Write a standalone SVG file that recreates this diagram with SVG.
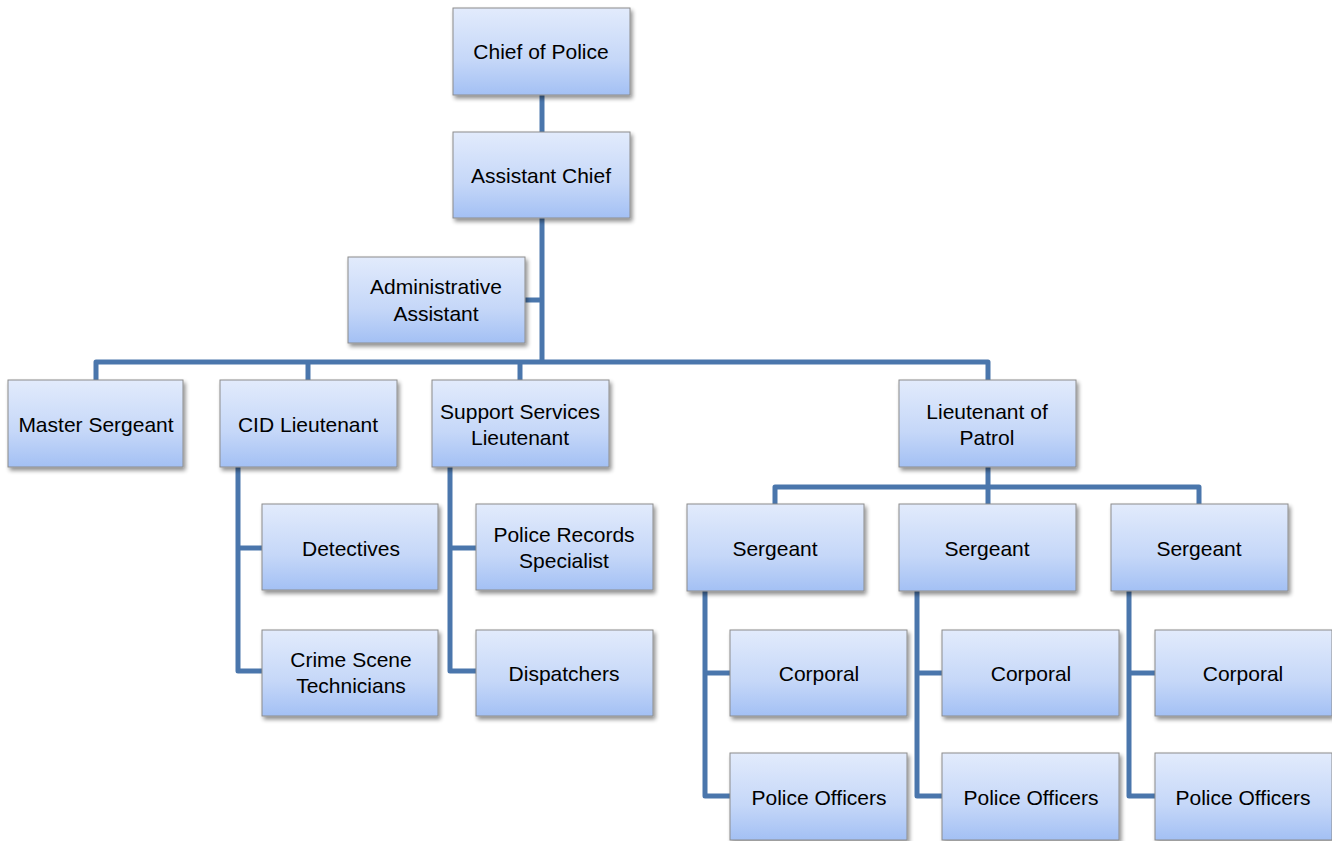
<svg xmlns="http://www.w3.org/2000/svg" width="1332" height="841" viewBox="0 0 1332 841">
<defs>
<linearGradient id="g" x1="0" y1="0" x2="0" y2="1">
<stop offset="0" stop-color="#e2ebfc"/>
<stop offset="0.6" stop-color="#c5d7f8"/>
<stop offset="1" stop-color="#a3c0f4"/>
</linearGradient>
<filter id="sh" x="-10%" y="-10%" width="125%" height="130%">
<feGaussianBlur in="SourceAlpha" stdDeviation="2"/>
<feOffset dx="2" dy="3"/>
<feComponentTransfer><feFuncA type="linear" slope="0.45"/></feComponentTransfer>
<feMerge><feMergeNode/><feMergeNode in="SourceGraphic"/></feMerge>
</filter>
</defs>
<style>
.box{fill:url(#g);stroke:#8c8c8c;stroke-width:1;filter:url(#sh)}
.t{font-family:"Liberation Sans",Arial,sans-serif;font-size:21px;fill:#000;text-anchor:middle}
.c{fill:none;stroke:#4a76ac;stroke-width:5;stroke-linejoin:round}
</style>
<rect width="1332" height="841" fill="#fff"/>
<g id="connectors">
<path class="c" d="M542,94V132"/>
<path class="c" d="M542,218V362"/>
<path class="c" d="M525,300H542"/>
<path class="c" d="M96,380V362H988V380"/>
<path class="c" d="M308,362V380"/>
<path class="c" d="M520,362V380"/>
<path class="c" d="M988,467V504"/>
<path class="c" d="M775,504V487H1199V504"/>
<path class="c" d="M238,467V671H262"/>
<path class="c" d="M238,548H262"/>
<path class="c" d="M450,467V671H476"/>
<path class="c" d="M450,548H476"/>
<path class="c" d="M705,591V796H730"/>
<path class="c" d="M705,673H730"/>
<path class="c" d="M917,591V796H942"/>
<path class="c" d="M917,673H942"/>
<path class="c" d="M1129,591V796H1155"/>
<path class="c" d="M1129,673H1155"/>
</g>
<g id="chief"><rect class="box" x="453" y="8" width="177" height="87"/><text class="t" x="541" y="59">Chief of Police</text></g>
<g id="asst-chief"><rect class="box" x="453" y="132" width="177" height="86"/><text class="t" x="541" y="183">Assistant Chief</text></g>
<g id="admin"><rect class="box" x="348" y="257" width="177" height="86"/><text class="t" x="436" y="294">Administrative</text><text class="t" x="436" y="321">Assistant</text></g>
<g id="master-sgt"><rect class="box" x="8" y="380" width="175" height="87"/><text class="t" x="96" y="432">Master Sergeant</text></g>
<g id="cid-lt"><rect class="box" x="220" y="380" width="177" height="87"/><text class="t" x="308" y="432">CID Lieutenant</text></g>
<g id="support-lt"><rect class="box" x="432" y="380" width="177" height="87"/><text class="t" x="520" y="419">Support Services</text><text class="t" x="520" y="445">Lieutenant</text></g>
<g id="patrol-lt"><rect class="box" x="899" y="380" width="177" height="87"/><text class="t" x="987" y="419">Lieutenant of</text><text class="t" x="987" y="445">Patrol</text></g>
<g id="detectives"><rect class="box" x="262" y="504" width="176" height="86"/><text class="t" x="351" y="556">Detectives</text></g>
<g id="crime-scene"><rect class="box" x="262" y="630" width="176" height="86"/><text class="t" x="351" y="667">Crime Scene</text><text class="t" x="351" y="693">Technicians</text></g>
<g id="records"><rect class="box" x="476" y="504" width="177" height="86"/><text class="t" x="564" y="542">Police Records</text><text class="t" x="564" y="568">Specialist</text></g>
<g id="dispatchers"><rect class="box" x="476" y="630" width="177" height="86"/><text class="t" x="564" y="681">Dispatchers</text></g>
<g id="sgt1"><rect class="box" x="687" y="504" width="177" height="87"/><text class="t" x="775" y="556">Sergeant</text></g>
<g id="sgt2"><rect class="box" x="899" y="504" width="177" height="87"/><text class="t" x="987" y="556">Sergeant</text></g>
<g id="sgt3"><rect class="box" x="1111" y="504" width="177" height="87"/><text class="t" x="1199" y="556">Sergeant</text></g>
<g id="corp1"><rect class="box" x="730" y="630" width="177" height="86"/><text class="t" x="819" y="681">Corporal</text></g>
<g id="corp2"><rect class="box" x="942" y="630" width="177" height="86"/><text class="t" x="1031" y="681">Corporal</text></g>
<g id="corp3"><rect class="box" x="1155" y="630" width="177" height="86"/><text class="t" x="1243" y="681">Corporal</text></g>
<g id="off1"><rect class="box" x="730" y="753" width="177" height="87"/><text class="t" x="819" y="805">Police Officers</text></g>
<g id="off2"><rect class="box" x="942" y="753" width="177" height="87"/><text class="t" x="1031" y="805">Police Officers</text></g>
<g id="off3"><rect class="box" x="1155" y="753" width="177" height="87"/><text class="t" x="1243" y="805">Police Officers</text></g>
</svg>
